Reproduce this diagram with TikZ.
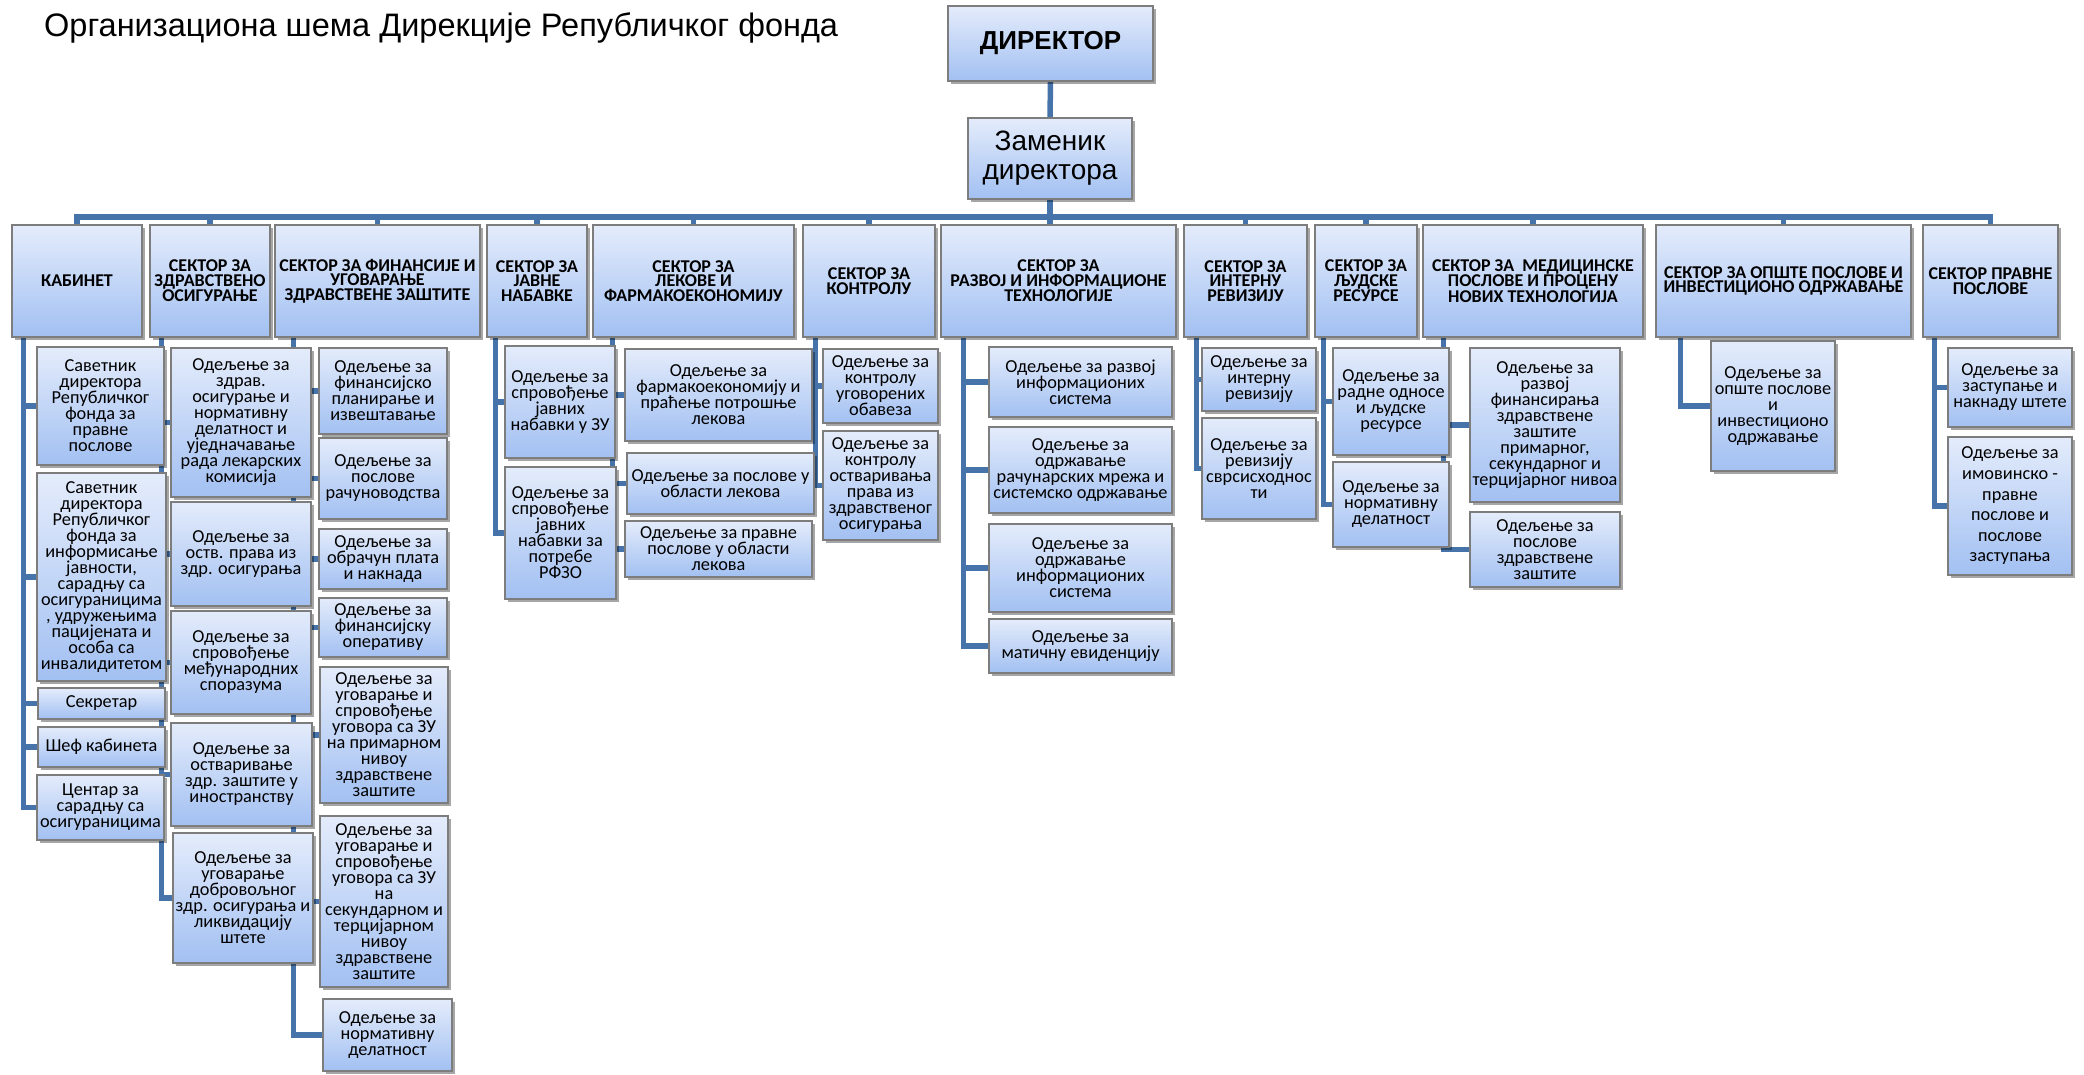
\documentclass[tikz,border=0pt]{standalone}
\usepackage{fontspec}
\setmainfont{Carlito}
\newfontfamily\arialf{Liberation Sans}
\usetikzlibrary{shadows,backgrounds}
\definecolor{linec}{RGB}{70,116,170}
\definecolor{boxtop}{RGB}{228,236,251}
\definecolor{boxbot}{RGB}{162,192,242}
\definecolor{boxdraw}{RGB}{125,125,125}
\tikzset{
 box/.style={draw=boxdraw, line width=1.1pt, top color=boxtop, bottom color=boxbot, rectangle, align=center, inner xsep=1pt, inner ysep=0pt,
   drop shadow={shadow xshift=2.5pt, shadow yshift=-3pt, opacity=0.35, fill=black},
   font={\fontsize{18.3}{16}\selectfont}},
 head/.style={font={\fontsize{18}{14.5}\selectfont\bfseries}},
 conn/.style={draw=linec, line width=5.5pt},
}
\newcommand\bx[7][]{%
 \pgfmathsetmacro\mybw{#5-#3}\pgfmathsetmacro\mybh{#6-#4}%
 \pgfmathsetmacro\mycx{(#3+#5)/2}\pgfmathsetmacro\mycy{(#4+#6)/2}%
 \node[box,#1,minimum width=\mybw pt,minimum height=\mybh pt] (#2) at (\mycx,\mycy) {#7};}
\begin{document}
\begin{tikzpicture}[x=1pt,y=-1pt]
\useasboundingbox (0,0) rectangle (2084,1074);
\node[anchor=base west, inner sep=0pt, font={\arialf\fontsize{32.5}{32}\selectfont}] (title) at (44,36) {Организациона шема Дирекције Републичког фонда};
\bx[font={\arialf\bfseries\fontsize{26}{28}\selectfont}]{dir}{948}{6}{1153}{81}{ДИРЕКТОР}
\bx[font={\arialf\fontsize{28}{29}\selectfont}]{dep}{968}{118}{1132}{199}{Заменик\\директора}
\coordinate (bus) at (1050,217);
% sectors
\bx[head]{kab}{12}{225}{142}{337}{КАБИНЕТ}
\bx[head]{zdr}{150}{225}{270}{337}{СЕКТОР ЗА\\ЗДРАВСТВЕНО\\ОСИГУРАЊЕ}
\bx[head]{fin}{275}{225}{480}{337}{СЕКТОР ЗА ФИНАНСИЈЕ И\\УГОВАРАЊЕ\\ЗДРАВСТВЕНЕ ЗАШТИТЕ}
\bx[head]{jn}{487}{225}{587}{337}{СЕКТОР ЗА\\ЈАВНЕ\\НАБАВКЕ}
\bx[head]{lek}{593}{225}{794}{337}{СЕКТОР ЗА\\ЛЕКОВЕ И\\ФАРМАКОЕКОНОМИЈУ}
\bx[head]{kon}{803}{225}{935}{337}{СЕКТОР ЗА\\КОНТРОЛУ}
\bx[head]{raz}{941}{225}{1176}{337}{СЕКТОР ЗА\\РАЗВОЈ И ИНФОРМАЦИОНЕ\\ТЕХНОЛОГИЈЕ}
\bx[head]{int}{1184}{225}{1307}{337}{СЕКТОР ЗА\\ИНТЕРНУ\\РЕВИЗИЈУ}
\bx[head]{ljr}{1315}{225}{1417}{337}{СЕКТОР ЗА\\ЉУДСКЕ\\РЕСУРСЕ}
\bx[head]{med}{1423}{225}{1643}{337}{СЕКТОР ЗА\ \ МЕДИЦИНСКЕ\\ПОСЛОВЕ И ПРОЦЕНУ\\НОВИХ ТЕХНОЛОГИЈА}
\bx[head]{ops}{1656}{225}{1911}{337}{СЕКТОР ЗА ОПШТЕ ПОСЛОВЕ И\\ИНВЕСТИЦИОНО ОДРЖАВАЊЕ}
\bx[head]{prv}{1923}{225}{2058}{337}{СЕКТОР ПРАВНЕ\\ПОСЛОВЕ}
% kabinet
\bx{kc1}{37}{347}{164}{465}{Саветник\\директора\\Републичког\\фонда за\\правне\\послове}
\bx{kc2}{37}{473}{166}{681}{Саветник\\директора\\Републичког\\фонда за\\информисање\\јавности,\\сарадњу са\\осигураницима\\, удружењима\\пацијената и\\особа са\\инвалидитетом}
\bx{kc3}{38}{688}{165}{719}{Секретар}
\bx{kc4}{38}{727}{165}{767}{Шеф кабинета}
\bx{kc5}{37}{775}{164}{840}{Центар за\\сарадњу са\\осигураницима}
% zdravstveno
\bx{zc1}{171}{348}{311}{497}{Одељење за\\здрав.\\осигурање и\\нормативну\\делатност и\\уједначавање\\рада лекарских\\комисија}
\bx{zc2}{171}{502}{311}{606}{Одељење за\\оств. права из\\здр. осигурања}
\bx{zc3}{171}{611}{311}{714}{Одељење за\\спровођење\\међународних\\споразума}
\bx{zc4}{171}{723}{312}{826}{Одељење за\\остваривање\\здр. заштите у\\иностранству}
\bx{zc5}{173}{833}{313}{963}{Одељење за\\уговарање\\добровољног\\здр. осигурања и\\ликвидацију\\штете}
% finansije
\bx{fc1}{319}{348}{447}{434}{Одељење за\\финансијско\\планирање и\\извештавање}
\bx{fc2}{319}{438}{447}{519}{Одељење за\\послове\\рачуноводства}
\bx{fc3}{319}{529}{447}{589}{Одељење за\\обрачун плата\\и накнада}
\bx{fc4}{319}{598}{447}{657}{Одељење за\\финансијску\\оперативу}
\bx{fc5}{320}{667}{448}{803}{Одељење за\\уговарање и\\спровођење\\уговора са ЗУ\\на примарном\\нивоу\\здравствене\\заштите}
\bx{fc6}{320}{816}{448}{987}{Одељење за\\уговарање и\\спровођење\\уговора са ЗУ\\на\\секундарном и\\терцијарном\\нивоу\\здравствене\\заштите}
\bx{fc7}{323}{999}{452}{1071}{Одељење за\\нормативну\\делатност}
% javne nabavke
\bx{jc1}{505}{346}{615}{458}{Одељење за\\спровођење\\јавних\\набавки у ЗУ}
\bx{jc2}{505}{467}{616}{599}{Одељење за\\спровођење\\јавних\\набавки за\\потребе\\РФЗО}
% lekovi
\bx{lc1}{625}{349}{812}{441}{Одељење за\\фармакоекономију и\\праћење потрошње\\лекова}
\bx{lc2}{627}{453}{814}{514}{Одељење за послове у\\области лекова}
\bx{lc3}{625}{521}{812}{577}{Одељење за правне\\послове у области\\лекова}
% kontrola
\bx{kn1}{823}{349}{938}{423}{Одељење за\\контролу\\уговорених\\обавеза}
\bx{kn2}{823}{431}{938}{540}{Одељење за\\контролу\\остваривања\\права из\\здравственог\\осигурања}
% razvoj
\bx{rc1}{989}{347}{1172}{417}{Одељење за развој\\информационих\\система}
\bx{rc2}{989}{427}{1172}{513}{Одељење за\\одржавање\\рачунарских мрежа и\\системско одржавање}
\bx{rc3}{989}{524}{1172}{612}{Одељење за\\одржавање\\информационих\\система}
\bx{rc4}{989}{619}{1172}{673}{Одељење за\\матичну евиденцију}
% interna revizija
\bx{ic1}{1202}{348}{1316}{411}{Одељење за\\интерну\\ревизију}
\bx{ic2}{1202}{418}{1316}{519}{Одељење за\\ревизију\\сврсисходнос\\ти}
% ljudski resursi
\bx{hc1}{1333}{348}{1449}{455}{Одељење за\\радне односе\\и људске\\ресурсе}
\bx{hc2}{1333}{462}{1449}{547}{Одељење за\\нормативну\\делатност}
% medicinske
\bx{mc1}{1470}{348}{1620}{502}{Одељење за\\развој\\финансирања\\здравствене\\заштите\\примарног,\\секундарног и\\терцијарног нивоа}
\bx{mc2}{1470}{512}{1620}{587}{Одељење за\\послове\\здравствене\\заштите}
% opste
\bx{oc1}{1711}{341}{1835}{471}{Одељење за\\опште послове\\и\\инвестиционо\\одржавање}
% pravne
\bx{pc1}{1948}{348}{2072}{427}{Одељење за\\заступање и\\накнаду штете}
\bx[font={\fontsize{18.3}{20.6}\selectfont}]{pc2}{1948}{437}{2072}{575}{Одељење за\\имовинско -\\правне\\послове и\\послове\\заступања}
% connectors
\begin{pgfonlayer}{background}
\draw[conn] (dir.south) -- (dep.north);
\draw[conn] (dep.south) -- (dep.south |- raz.north);
\draw[conn] (kab.north) -- (kab.north |- bus) -- (prv.north |- bus) -- (prv.north);
\foreach \s in {zdr,fin,jn,lek,kon,int,ljr,med,ops}
  \draw[conn] (\s.north) -- (\s.north |- bus);
\foreach \c in {kc1,kc2,kc3,kc4,kc5} \draw[conn] ([xshift=12pt]kab.south west) |- (\c.west);
\foreach \c in {zc1,zc2,zc3,zc4,zc5} \draw[conn] ([xshift=12pt]zdr.south west) |- (\c.west);
\foreach \c in {fc1,fc2,fc3,fc4,fc5,fc6,fc7} \draw[conn] ([xshift=19pt]fin.south west) |- (\c.west);
\foreach \c in {jc1,jc2} \draw[conn] ([xshift=9pt]jn.south west) |- (\c.west);
\foreach \c in {lc1,lc2,lc3} \draw[conn] ([xshift=20pt]lek.south west) |- (\c.west);
\foreach \c in {kn1,kn2} \draw[conn] ([xshift=13pt]kon.south west) |- (\c.west);
\foreach \c in {rc1,rc2,rc3,rc4} \draw[conn] ([xshift=23pt]raz.south west) |- (\c.west);
\foreach \c in {ic1,ic2} \draw[conn] ([xshift=13pt]int.south west) |- (\c.west);
\foreach \c in {hc1,hc2} \draw[conn] ([xshift=9pt]ljr.south west) |- (\c.west);
\foreach \c in {mc1,mc2} \draw[conn] ([xshift=21pt]med.south west) |- (\c.west);
\draw[conn] ([xshift=25pt]ops.south west) |- (oc1.west);
\foreach \c in {pc1,pc2} \draw[conn] ([xshift=12pt]prv.south west) |- (\c.west);
\end{pgfonlayer}
\end{tikzpicture}
\end{document}
